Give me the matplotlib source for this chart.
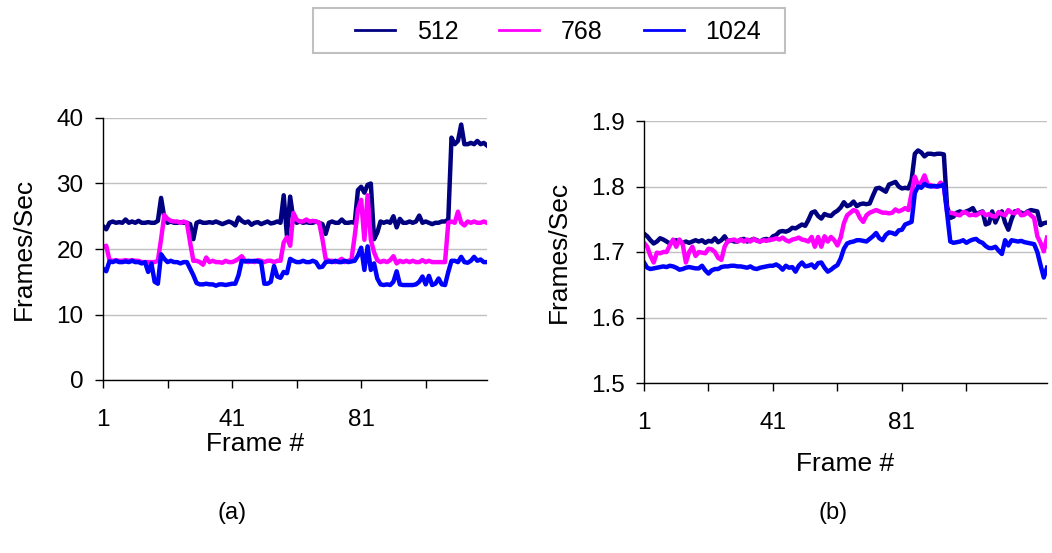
import numpy as np
import matplotlib.pyplot as plt
from matplotlib.lines import Line2D
from matplotlib.patches import Rectangle
from matplotlib.ticker import FixedLocator, FormatStrFormatter

plt.rcParams['font.family'] = ['Liberation Sans', 'DejaVu Sans']

# -----------------------------
# data
# -----------------------------
series_names = ["512", "768", "1024"]
series_colors = ["#000080", "#FF00FF", "#0000FF"]

# (a) frames 1..120
a_512 = [23.5, 23.0, 24.0, 24.2, 24.0, 24.1, 24.0, 24.5, 24.0, 24.2,
         24.0, 24.3, 24.0, 24.0, 24.1, 24.0, 24.0, 24.3, 27.8, 24.8,
         24.0, 24.2, 24.0, 24.0, 24.1, 24.0, 24.0, 23.8, 21.5, 24.0,
         24.2, 24.0, 24.0, 24.1, 24.0, 24.2, 24.0, 23.8, 24.0, 24.2,
         24.0, 23.6, 24.8, 24.3, 24.0, 24.2, 23.7, 24.0, 24.1, 23.8,
         24.0, 24.2, 23.9, 24.0, 24.2, 24.0, 28.2, 22.0, 28.0, 24.5,
         24.0, 24.2, 24.0, 24.1, 24.0, 24.0, 24.2, 24.0, 23.8, 22.3,
         24.0, 24.2, 24.0, 24.0, 24.5, 24.0, 24.0, 24.1, 24.0, 29.0,
         29.5, 28.6, 29.8, 30.0, 21.5, 22.5, 24.2, 24.0, 24.2, 24.0,
         25.0, 23.3, 24.6, 24.0, 24.0, 24.2, 24.0, 24.2, 25.1, 24.0,
         24.2, 24.0, 23.8, 24.0, 24.0, 24.2, 24.2, 24.5, 37.0, 36.0,
         36.5, 39.0, 36.0, 36.0, 36.2, 36.0, 36.5, 36.0, 36.2, 35.8]
a_768 = [20.3, 20.5, 18.3, 18.2, 18.3, 18.2, 18.2, 18.3, 18.2, 18.3,
         18.2, 18.2, 18.0, 18.0, 18.0, 18.0, 18.0, 18.2, 21.5, 25.2,
         24.6, 24.3, 24.2, 24.2, 24.0, 24.2, 24.0, 21.0, 18.2, 18.2,
         18.0, 17.6, 18.7, 18.0, 18.2, 18.0, 18.0, 17.9, 18.2, 18.0,
         18.0, 18.2, 18.5, 18.9, 18.2, 18.0, 18.2, 18.0, 18.3, 18.2,
         18.0, 18.2, 18.2, 18.0, 18.2, 18.2, 21.0, 21.8, 20.5, 25.5,
         24.5, 24.2, 24.2, 24.5, 24.2, 24.3, 24.2, 24.0, 21.5, 18.5,
         18.2, 18.2, 18.0, 18.2, 18.5, 18.0, 18.2, 18.4, 22.0, 26.0,
         27.5, 21.4, 28.2, 21.4, 19.5, 18.3, 18.0, 18.2, 18.0, 18.3,
         18.9, 17.8, 18.2, 18.0, 18.2, 18.0, 18.2, 18.0, 18.0, 18.3,
         18.0, 18.2, 18.0, 18.0, 18.0, 18.0, 18.0, 24.0, 24.2, 24.0,
         25.7, 24.0, 23.6, 24.2, 24.0, 24.2, 24.0, 24.0, 24.2, 24.0]
a_1024 = [17.0, 16.6, 18.1, 18.0, 18.2, 18.0, 18.0, 18.1, 18.0, 18.2,
          18.0, 18.0, 17.8, 18.0, 16.5, 17.8, 15.0, 14.7, 19.2, 18.5,
          18.0, 18.2, 18.0, 18.0, 17.8, 18.0, 18.0, 17.0, 16.0, 14.8,
          14.6, 14.6, 14.7, 14.6, 14.6, 14.4, 14.6, 14.6, 14.5, 14.6,
          14.7, 14.7, 16.0, 18.2, 18.1, 18.2, 18.1, 18.2, 18.1, 18.0,
          14.7, 14.7, 15.0, 17.4, 15.8, 15.6, 16.5, 16.3, 18.5, 18.2,
          18.0, 18.0, 18.2, 18.0, 18.0, 18.2, 18.0, 17.2, 17.3, 18.0,
          18.1, 18.0, 18.2, 18.0, 18.0, 18.2, 18.0, 18.1, 18.2, 19.0,
          20.2, 16.8, 20.4, 16.8, 17.8, 15.5, 14.6, 14.5, 14.6, 14.5,
          15.0, 16.6, 14.6, 14.5, 14.5, 14.5, 14.5, 14.6, 15.0, 15.8,
          14.6, 15.9, 14.5, 14.7, 15.5, 14.6, 14.5, 16.5, 18.2, 18.2,
          18.0, 18.8, 18.0, 17.9, 18.2, 18.8, 18.2, 18.4, 18.0, 18.0]

# (b) frames 1..126
b_512 = [1.728, 1.724, 1.718, 1.713, 1.716, 1.721, 1.719, 1.716, 1.713, 1.716,
         1.718, 1.716, 1.714, 1.716, 1.714, 1.716, 1.718, 1.716, 1.718, 1.714,
         1.717, 1.716, 1.721, 1.715, 1.718, 1.724, 1.716, 1.718, 1.716, 1.716,
         1.719, 1.720, 1.716, 1.718, 1.720, 1.718, 1.716, 1.719, 1.720, 1.718,
         1.724, 1.726, 1.731, 1.732, 1.731, 1.733, 1.737, 1.736, 1.739, 1.742,
         1.740, 1.749, 1.760, 1.762, 1.755, 1.751, 1.758, 1.756, 1.755, 1.760,
         1.763, 1.768, 1.776, 1.770, 1.772, 1.777, 1.770, 1.773, 1.774, 1.773,
         1.774, 1.786, 1.797, 1.798, 1.795, 1.792, 1.803, 1.805, 1.807, 1.800,
         1.797, 1.798, 1.797, 1.810, 1.850, 1.855, 1.852, 1.846, 1.850, 1.850,
         1.849, 1.850, 1.850, 1.849, 1.770, 1.752, 1.754, 1.760, 1.762, 1.760,
         1.762, 1.764, 1.767, 1.758, 1.760, 1.762, 1.742, 1.744, 1.762, 1.745,
         1.756, 1.762, 1.745, 1.734, 1.750, 1.762, 1.762, 1.760, 1.758, 1.762,
         1.764, 1.763, 1.762, 1.741, 1.744, 1.745]
b_768 = [1.714, 1.708, 1.694, 1.684, 1.699, 1.698, 1.700, 1.700, 1.710, 1.719,
         1.708, 1.719, 1.712, 1.684, 1.700, 1.708, 1.694, 1.700, 1.699, 1.698,
         1.705, 1.704, 1.700, 1.691, 1.688, 1.708, 1.717, 1.718, 1.719, 1.716,
         1.719, 1.716, 1.719, 1.716, 1.720, 1.717, 1.716, 1.718, 1.717, 1.719,
         1.719, 1.721, 1.719, 1.722, 1.718, 1.716, 1.719, 1.720, 1.722, 1.719,
         1.718, 1.716, 1.723, 1.708, 1.723, 1.708, 1.724, 1.716, 1.723, 1.718,
         1.710, 1.722, 1.744, 1.756, 1.760, 1.764, 1.762, 1.752, 1.746, 1.756,
         1.760, 1.762, 1.764, 1.762, 1.760, 1.760, 1.759, 1.760, 1.765, 1.762,
         1.764, 1.767, 1.764, 1.790, 1.815, 1.802, 1.806, 1.817, 1.803, 1.802,
         1.800, 1.800, 1.806, 1.800, 1.762, 1.760, 1.759, 1.757, 1.756, 1.761,
         1.760, 1.756, 1.757, 1.756, 1.759, 1.761, 1.756, 1.758, 1.755, 1.754,
         1.761, 1.758, 1.756, 1.764, 1.760, 1.759, 1.764, 1.756, 1.757, 1.761,
         1.756, 1.752, 1.724, 1.714, 1.701, 1.722]
b_1024 = [1.684, 1.676, 1.674, 1.675, 1.676, 1.677, 1.678, 1.677, 1.679, 1.678,
          1.676, 1.673, 1.674, 1.676, 1.677, 1.676, 1.675, 1.675, 1.679, 1.672,
          1.667, 1.672, 1.674, 1.674, 1.677, 1.678, 1.678, 1.679, 1.679, 1.678,
          1.678, 1.677, 1.676, 1.678, 1.675, 1.674, 1.676, 1.677, 1.678, 1.679,
          1.679, 1.681, 1.678, 1.673, 1.679, 1.676, 1.677, 1.670, 1.679, 1.684,
          1.678, 1.679, 1.681, 1.676, 1.683, 1.684, 1.676, 1.670, 1.673, 1.677,
          1.680, 1.690, 1.705, 1.713, 1.715, 1.716, 1.718, 1.718, 1.717, 1.716,
          1.720, 1.724, 1.729, 1.721, 1.718, 1.726, 1.730, 1.729, 1.727, 1.733,
          1.734, 1.742, 1.744, 1.746, 1.790, 1.800, 1.798, 1.804, 1.801, 1.800,
          1.801, 1.800, 1.801, 1.803, 1.760, 1.716, 1.714, 1.715, 1.716, 1.718,
          1.714, 1.717, 1.719, 1.720, 1.716, 1.714, 1.709, 1.706, 1.706, 1.708,
          1.702, 1.697, 1.718, 1.710, 1.718, 1.717, 1.716, 1.717, 1.715, 1.714,
          1.713, 1.712, 1.700, 1.680, 1.661, 1.676]

a_yticks = [0, 10, 20, 30, 40]
b_yticks = [1.5, 1.6, 1.7, 1.8, 1.9]
x_labels = [1, 41, 81]

fig = plt.figure(figsize=(10.52, 5.53), dpi=100)
ax_a = fig.add_axes([103/1052, 1 - 380/553, 384/1052, 262/553])
ax_b = fig.add_axes([644/1052, 1 - 383/553, 403/1052, 262/553])

panels = [
  (ax_a, [a_512, a_768, a_1024], a_yticks, "%d"),
  (ax_b, [b_512, b_768, b_1024], b_yticks, "%.1f"),
]

for ax, data, yt, fmt in panels:
  n = len(data[0])
  frames = np.arange(1, n + 1)
  for vals, c in zip(data, series_colors):
    ax.plot(frames, vals, color=c, lw=3.2, solid_joinstyle='round')
  ax.set_xlim(1, n)
  ax.set_ylim(yt[0], yt[-1])
  ax.set_yticks(yt)
  ax.yaxis.set_major_formatter(FormatStrFormatter(fmt))
  ax.set_xticks(x_labels)
  ax.xaxis.set_minor_locator(FixedLocator([t for t in range(21, n + 1, 40)]))
  ax.grid(axis='y', color='#c0c0c0', lw=1)
  ax.set_axisbelow(True)
  for s in ('top', 'right'):
    ax.spines[s].set_visible(False)
  for s in ('left', 'bottom'):
    ax.spines[s].set_color('black')
    ax.spines[s].set_linewidth(1)
  ax.tick_params(which='both', direction='out', length=6, width=1, color='black')
  ax.tick_params(axis='y', labelsize=17.5, pad=8)
  ax.tick_params(axis='x', labelsize=17.5, pad=15)
  ax.set_ylabel("Frames/Sec", fontsize=19)
  ax.set_xlabel("Frame #", fontsize=19)

ax_a.yaxis.set_label_coords(-0.175, 0.5)
ax_b.yaxis.set_label_coords(-0.182, 0.5)
ax_a.xaxis.set_label_coords(0.396, -0.2)
ax_b.xaxis.set_label_coords(0.499, -0.265)

fig.text(232/1052, 1 - 513/553, "(a)", fontsize=17, ha='center', va='center')
fig.text(833/1052, 1 - 513/553, "(b)", fontsize=17, ha='center', va='center')

# legend box drawn by hand (Excel leaves more room on the left)
fig.patches.append(Rectangle((313/1052, 1 - 53/553), 472/1052, 45/553,
                             transform=fig.transFigure, fill=False,
                             edgecolor='#c0c0c0', lw=1.5))
handles = [Line2D([], [], color=c, lw=2) for c in series_colors]
fig.legend(handles, series_names, loc='center', ncol=3,
           bbox_to_anchor=(558/1052, 1 - 32/553), fontsize=18,
           frameon=False, handlelength=1.6, handletextpad=0.85,
           columnspacing=1.65, borderpad=0)

fig.savefig("out.png", dpi=100)
